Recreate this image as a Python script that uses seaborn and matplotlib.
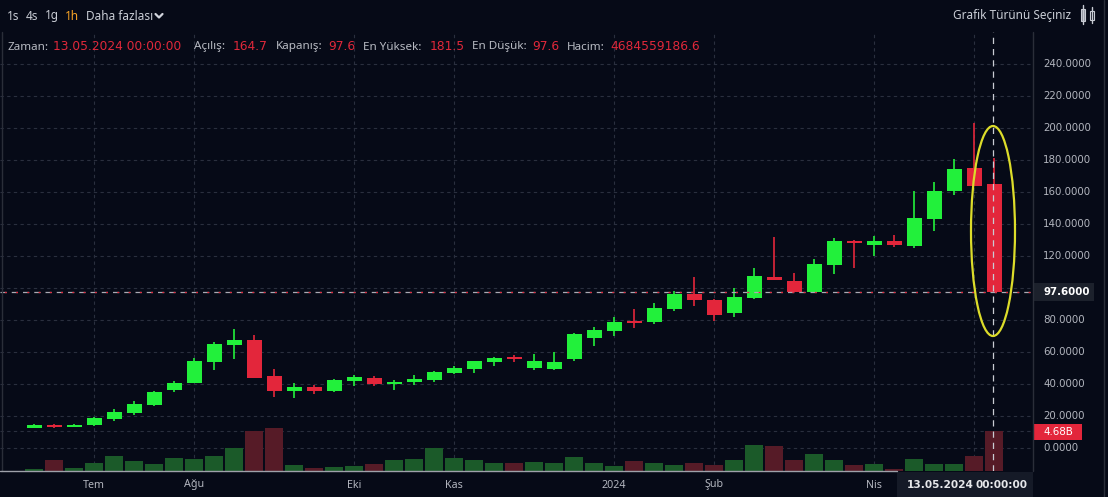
import numpy as np
import pandas as pd
import matplotlib
matplotlib.use("Agg")
import matplotlib.pyplot as plt
import seaborn as sns
from matplotlib.patches import Ellipse, Rectangle
from matplotlib.lines import Line2D
from matplotlib.transforms import blended_transform_factory

# ---------------- data (weekly candles, last = 13.05.2024) ----------------
dates = pd.date_range("2023-06-12", periods=49, freq="W-MON")
opens = [12.8, 14.3, 13.3, 14.6, 18.1, 21.9, 27.1, 36.25, 40.8, 53.75, 64.6, 67.5,
         45.0, 35.6, 38.1, 35.6, 41.9, 43.75, 40.2, 41.25, 42.7, 46.9, 49.6, 53.9,
         56.3, 50.0, 49.6, 55.8, 68.9, 73.3, 78.8, 78.9, 86.9, 96.25, 92.5, 84.6,
         93.75, 106.9, 104.4, 97.3, 114.4, 129.4, 127.1, 129.4, 126.25, 143.1, 160.6,
         175.2, 164.7]
closes = [14.5, 13.4, 14.5, 18.75, 22.5, 27.5, 35.0, 40.6, 54.4, 65.0, 67.5, 43.9,
          35.6, 38.1, 35.6, 42.5, 44.6, 40.2, 41.0, 43.1, 47.5, 50.0, 54.4, 56.25,
          55.8, 54.4, 53.6, 71.25, 73.75, 78.75, 78.3, 87.5, 96.25, 92.5, 83.1, 94.4,
          107.7, 105.2, 97.3, 115.0, 129.4, 128.1, 129.4, 126.7, 143.75, 160.6, 174.4,
          163.75, 97.6]
highs = [14.8, 14.8, 15.0, 19.6, 24.2, 29.4, 35.6, 41.9, 56.0, 66.4, 74.2, 70.6,
         49.2, 40.8, 39.4, 42.9, 45.4, 45.0, 42.5, 45.8, 47.9, 51.25, 54.6, 57.1,
         58.1, 58.5, 60.0, 72.1, 75.4, 82.1, 87.1, 90.8, 98.1, 107.1, 93.0, 99.8,
         112.3, 131.7, 109.6, 118.3, 131.5, 130.0, 132.7, 133.3, 160.6, 166.4, 180.6,
         203.3, 181.5]
lows = [12.5, 12.3, 13.0, 13.8, 17.1, 20.8, 26.25, 35.2, 40.4, 48.75, 55.6, 43.9,
        32.1, 31.5, 33.75, 34.8, 38.75, 39.0, 36.25, 39.4, 41.0, 46.5, 47.1, 51.25,
        53.6, 48.75, 48.75, 54.4, 63.75, 70.0, 75.2, 77.5, 85.6, 88.75, 79.6, 81.7,
        92.9, 105.2, 97.3, 96.8, 108.75, 112.3, 120.2, 125.8, 125.2, 135.8, 158.3,
        163.75, 97.6]
volumes_b = [0.27, 1.32, 0.39, 0.94, 1.79, 1.17, 0.85, 1.56, 1.40, 1.79, 2.69, 4.68,
             5.07, 0.74, 0.39, 0.50, 0.62, 0.85, 1.29, 1.44, 2.66, 1.56, 1.29, 0.97,
             0.97, 1.05, 0.94, 1.67, 0.94, 0.62, 1.17, 0.94, 0.74, 0.94, 0.74, 1.29,
             3.04, 2.93, 1.29, 1.99, 1.29, 0.70, 0.82, 0.23, 1.40, 0.82, 0.82, 1.76,
             4.68]
price_ticks = [0, 20, 40, 60, 80, 120, 140, 160, 180, 200, 220, 240]
grid_prices = [0, 20, 40, 60, 80, 100, 120, 140, 160, 180, 200, 220, 240]
month_labels = ["Tem", "Ağu", "Eki", "Kas", "2024", "Şub", "Nis"]
month_dates = ["2023-07-03", "2023-08-07", "2023-10-02", "2023-11-06",
               "2024-01-01", "2024-02-05", "2024-04-01"]
grid_dates = month_dates + ["2024-05-06"]
last_close = 97.6
last_volume_label = "4.68B"
info_items = [("Zaman:", "13.05.2024 00:00:00"), ("Açılış:", "164.7"),
              ("Kapanış:", "97.6"), ("En Yüksek:", "181.5"),
              ("En Düşük:", "97.6"), ("Hacim:", "4684559186.6")]
info_x = [(7, 53), (194, 233), (276, 328), (363, 430), (472, 532), (567, 610)]
toolbar = [("1s", 7), ("4s", 26), ("1g", 45), ("1h", 65), ("Daha fazlası", 86)]

# ---------------- style ----------------
BG = "#060a17"
UP = "#22f03b"
DN = "#e3263b"
VUP = "#1b5a29"
VDN = "#561b27"
GRID = "#2a2f3e"
TXT = "#b2b5be"
LBL = "Noto Sans"

sns.set_theme(style="dark", rc={"figure.facecolor": BG, "axes.facecolor": BG,
                                "savefig.facecolor": BG})
plt.rcParams["font.family"] = ["DejaVu Sans"]

W, H = 1108, 497
fig = plt.figure(figsize=(W / 100, H / 100), dpi=100)

TOP, BOT, RIGHT = 32, 471, 1033
ax = fig.add_axes([0, 1 - BOT / H, RIGHT / W, (BOT - TOP) / H])
axv = ax.twinx()
ax.set_zorder(axv.get_zorder() + 1)

idx = np.arange(len(dates))
pos = {d: i for i, d in enumerate(dates.strftime("%Y-%m-%d"))}
up = np.array(closes) >= np.array(opens)

# volume bars (seaborn)
dfv = pd.DataFrame({"i": idx, "vol": volumes_b,
                    "dir": np.where(up, "up", "down")})
sns.barplot(data=dfv, x="i", y="vol", hue="dir", palette={"up": VUP, "down": VDN},
            native_scale=True, dodge=False, width=0.93, errorbar=None,
            legend=False, saturation=1, linewidth=0, ax=axv)

# grid lines (behind volume)
btr = blended_transform_factory(axv.transAxes, ax.transData)
for p in grid_prices:
    axv.add_line(Line2D([0, 1], [p, p], transform=btr, color=GRID, lw=0.8,
                        ls=(0, (3, 3)), zorder=0))
axv.add_line(Line2D([0, 1], [4.68, 4.68], transform=axv.get_yaxis_transform(),
                    color=GRID, lw=0.8, ls=(0, (3, 3)), zorder=0))
for d in grid_dates:
    axv.axvline(pos[d], color=GRID, lw=0.8, ls=(0, (3, 3)), zorder=0)

# candles
cols = np.where(up, UP, DN)
ax.vlines(idx, lows, highs, colors=cols, linewidth=1.2, zorder=3)
body_b = np.minimum(opens, closes)
body_h = np.maximum(np.abs(np.array(closes) - np.array(opens)), 0.9)
ax.bar(idx, body_h, bottom=body_b, width=0.75, color=cols, linewidth=0, zorder=4)

# price line & crosshair
ax.axhline(last_close, color="#a9acb5", lw=0.9, ls=(0, (5, 4)), zorder=5)
ax.axhline(last_close, color=DN, lw=0.9, ls=(5.5, (1.5, 7.5)), zorder=5)
ax.axvline(idx[-1] - 0.05, color="#c9ccd3", lw=0.9, ls=(0, (5, 4)), zorder=6)

xmin, xmax = (0 - 34) / 20, (RIGHT - 34) / 20
ax.set_xlim(xmin, xmax)
ax.set_ylim((448 - BOT) / 1.6, (448 - TOP) / 1.6)
axv.set_xlim(xmin, xmax)
axv.set_ylim(0, last_volume_label and 4.68 * (BOT - TOP) / 40)
ax.set_axis_off()
axv.set_axis_off()

# ---------------- overlay in pixel coords ----------------
o = fig.add_axes([0, 0, 1, 1])
o.set_xlim(0, W)
o.set_ylim(H, 0)
o.set_axis_off()
o.set_zorder(20)

def py(p):
    return 448 - 1.6 * p

# ellipse highlight
o.add_patch(Ellipse((993, 231), 44, 210, fill=False, edgecolor="#dcdc2a", lw=1.6))

# panel separators
o.plot([RIGHT, RIGHT], [TOP, BOT], color="#2a2e39", lw=1)
o.plot([1104, 1104], [0, H], color="#2a2e39", lw=1)
o.plot([2, 2], [TOP, BOT], color="#2a2e39", lw=1)
o.plot([0, 897], [BOT, BOT], color="#9ea1aa", lw=1)

# price axis labels
for p in price_ticks:
    o.text(1043, py(p), f"{p:.4f}", color=TXT, fontsize=7.4, va="center", ha="left")
o.add_patch(Rectangle((1034, 283), 60, 18, color="#1c212c", lw=0))
o.text(1043, py(last_close), f"{last_close:.4f}", color="white", fontsize=7.4,
       va="center", ha="left", weight="bold")
o.add_patch(Rectangle((1033, 424), 49, 16, color=DN, lw=0))
o.text(1043, 432, last_volume_label, color="white", fontsize=7.4, va="center", ha="left")

# x labels
for lab, d in zip(month_labels, month_dates):
    o.text(34 + 20 * pos[d], 485, lab, color=TXT, fontsize=7.7, ha="center",
           va="center", family=LBL)
o.add_patch(Rectangle((897, 472), 136, 25, color="#151a27", lw=0))
o.text(907, 485, dates[-1].strftime("%d.%m.%Y"), color="#e6e7ea", fontsize=7.6,
       ha="left", va="center", weight="bold")
o.text(976, 485, "00:00:00", color="#e6e7ea", fontsize=7.6, ha="left",
       va="center", weight="bold")

# toolbar
for lab, x in toolbar:
    o.text(x, 16, lab, color="#f7a325" if lab == "1h" else "#c8ccd4", fontsize=8.5,
           ha="left", va="center", family=LBL, weight="bold" if lab == "1h" else "normal")
o.plot([155.5, 159, 162.5], [14, 17.5, 14], color="#d1d4dc", lw=1.6,
       solid_capstyle="round")
o.text(1071, 16, "Grafik Türünü Seçiniz", color="#c8ccd4", fontsize=8.5, ha="right",
       va="center", family=LBL)
o.plot([1082.5, 1082.5], [5, 24], color="#c8ccd4", lw=1)
o.add_patch(Rectangle((1080.5, 9), 4, 12, facecolor="#8a8e98", edgecolor="#c8ccd4", lw=0.8))
o.plot([1091.5, 1091.5], [7, 23], color="#c8ccd4", lw=1)
o.add_patch(Rectangle((1089.5, 11), 4, 9, facecolor=BG, edgecolor="#c8ccd4", lw=0.8))

# info line
for (lab, val), (xl, xv) in zip(info_items, info_x):
    o.text(xl, 47, lab, color="#b7bac2", fontsize=8.4, ha="left", va="center", family=LBL)
    o.text(xv, 47, val, color="#e0283a", fontsize=8.8, ha="left", va="center")

fig.savefig("out.png", dpi=100, facecolor=BG)
